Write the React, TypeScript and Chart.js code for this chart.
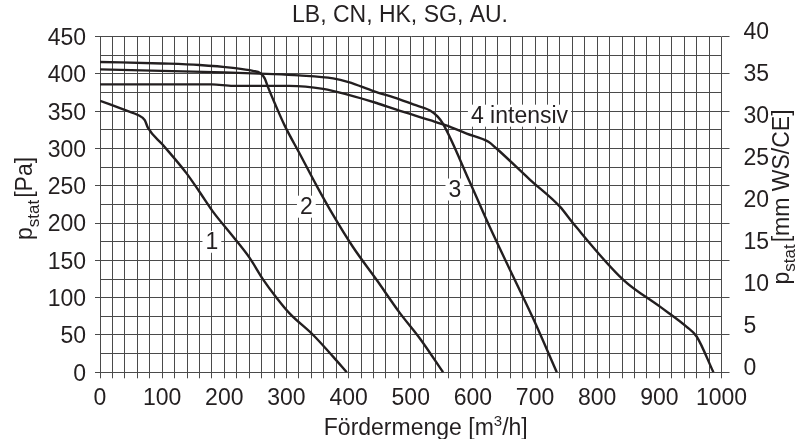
import React, { useEffect, useRef } from 'react';
import { Chart, registerables } from 'chart.js';

Chart.register(...registerables);

// ---------- data ----------
const chartTitle = 'LB, CN, HK, SG, AU.';
const xTitleMain = 'Fördermenge [m';
const xTitleSup = '3';
const xTitleRest = '/h]';
const yTitleMain = 'p';
const yTitleSub = 'stat';
const yLeftTitleRest = '[Pa]';
const yRightTitleRest = '[mm WS/CE]';

// Fördermenge [m³/h] and p_stat [Pa] per curve
const curve1X = [0, 45, 61, 72, 77, 101, 139, 160, 182, 214, 241, 262, 284, 305, 343, 375, 397];
const curve1Y = [364, 350, 345, 338, 328, 305, 267, 242, 215, 182, 153, 125, 100, 79, 50, 21, 0];

const curve2X = [0, 100, 160, 214, 246, 258, 265, 270, 281, 297, 322, 348, 375, 407, 445, 482, 515, 552];
const curve2Y = [416, 414, 412, 408, 404, 401, 394, 383, 361, 331, 292, 251, 211, 168, 124, 80, 45, 0];

const curve3X = [0, 100, 200, 268, 320, 375, 400, 440, 482, 504, 531, 543, 552, 595, 627, 665, 697, 735];
const curve3Y = [406, 404, 402, 400, 398, 394, 389, 377, 366, 359, 351, 343, 333, 255, 195, 128, 72, 0];

const curve4X = [0, 180, 214, 305, 359, 400, 445, 477, 531, 557, 590, 625, 638, 692, 740, 761, 842, 901, 944, 960, 987];
const curve4Y = [386, 386, 384, 384, 380, 372, 361, 352, 338, 331, 320, 309, 300, 258, 222, 200, 124, 88, 61, 48, 0];

const curveLabels = ['1', '2', '3', '4 intensiv'];
const curveLabelX = [180, 332, 571, 675];
const curveLabelY = [175, 222, 245, 344];

const xMin = 0, xMax = 1000, xStep = 20, xLabelStep = 100;
const yMin = 0, yMax = 450, yStep = 25, yLabelStep = 50;
const rMin = 0, rMax = 40, rStep = 5;

// ---------- style ----------
const FONT = '"Liberation Sans", Arial, Helvetica, sans-serif';
const FS = 23;
const SUBFS = 17;
const TEXT = '#231f20';
const GRID = '#4a4a4a';
const LINE = '#231f20';

function pts(xs: number[], ys: number[]) {
  return xs.map((x, i) => ({ x, y: ys[i] }));
}

function drawSubText(ctx: CanvasRenderingContext2D, cx: number, cy: number, main: string, sub: string, rest: string) {
  ctx.save();
  ctx.translate(cx, cy);
  ctx.rotate(-Math.PI / 2);
  ctx.textBaseline = 'alphabetic';
  ctx.textAlign = 'left';
  ctx.fillStyle = TEXT;
  ctx.font = `${FS}px ${FONT}`;
  const w1 = ctx.measureText(main).width;
  const w3 = ctx.measureText(rest).width;
  ctx.font = `${SUBFS}px ${FONT}`;
  const w2 = ctx.measureText(sub).width;
  const gap = 2;
  const total = w1 + w2 + gap + w3;
  const s = -total / 2;
  ctx.font = `${FS}px ${FONT}`;
  ctx.fillText(main, s, 0);
  ctx.font = `${SUBFS}px ${FONT}`;
  ctx.fillText(sub, s + w1, 6.5);
  ctx.font = `${FS}px ${FONT}`;
  ctx.fillText(rest, s + w1 + w2 + gap, 0);
  ctx.restore();
}

const annotPlugin = {
  id: 'annot',
  beforeDatasetsDraw(chart: any) {
    const { ctx, scales } = chart;
    ctx.save();
    ctx.font = `${FS}px ${FONT}`;
    ctx.textAlign = 'center';
    ctx.textBaseline = 'middle';
    curveLabels.forEach((t, i) => {
      const px = scales.x.getPixelForValue(curveLabelX[i]);
      const py = scales.y.getPixelForValue(curveLabelY[i]);
      const w = ctx.measureText(t).width + 6;
      ctx.fillStyle = '#ffffff';
      ctx.fillRect(px - w / 2, py - 11, w, 22);
      ctx.fillStyle = TEXT;
      ctx.fillText(t, px, py + 1);
    });
    ctx.restore();
  },
  afterDraw(chart: any) {
    const { ctx, chartArea, width, height } = chart;
    const midY = (chartArea.top + chartArea.bottom) / 2;
    drawSubText(ctx, 32, midY - 6, yTitleMain, yTitleSub, yLeftTitleRest);
    drawSubText(ctx, width - 11.5, midY - 7.5, yTitleMain, yTitleSub, yRightTitleRest);
    ctx.save();
    ctx.fillStyle = TEXT;
    ctx.textBaseline = 'alphabetic';
    ctx.textAlign = 'left';
    ctx.font = `${FS}px ${FONT}`;
    const a = ctx.measureText(xTitleMain).width;
    const c = ctx.measureText(xTitleRest).width;
    ctx.font = `${SUBFS - 2}px ${FONT}`;
    const b = ctx.measureText(xTitleSup).width;
    const total = a + b + c;
    const cx = (chartArea.left + chartArea.right) / 2 + 15;
    const by = height - 4;
    const s = cx - total / 2;
    ctx.font = `${FS}px ${FONT}`;
    ctx.fillText(xTitleMain, s, by);
    ctx.font = `${SUBFS - 2}px ${FONT}`;
    ctx.fillText(xTitleSup, s + a, by - 9);
    ctx.font = `${FS}px ${FONT}`;
    ctx.fillText(xTitleRest, s + a + b, by);
    ctx.restore();
  },
};

export default function App() {
  const ref = useRef<HTMLCanvasElement | null>(null);

  useEffect(() => {
    if (!ref.current) return;
    const ds = (xs: number[], ys: number[], label: string) => ({
      label,
      data: pts(xs, ys),
      borderColor: LINE,
      backgroundColor: LINE,
      borderWidth: 2.4,
      pointRadius: 0,
      cubicInterpolationMode: 'monotone' as const,
      fill: false,
      xAxisID: 'x',
      yAxisID: 'y',
    });
    const chart = new Chart(ref.current, {
      type: 'line',
      data: {
        datasets: [
          ds(curve1X, curve1Y, '1'),
          ds(curve2X, curve2Y, '2'),
          ds(curve3X, curve3Y, '3'),
          ds(curve4X, curve4Y, '4 intensiv'),
        ],
      },
      options: {
        animation: false,
        responsive: false,
        devicePixelRatio: 1,
        layout: { padding: 0 },
        plugins: {
          legend: { display: false },
          tooltip: { enabled: false },
          title: {
            display: true,
            text: chartTitle,
            color: TEXT,
            font: { family: FONT, size: FS, weight: 'normal' },
            padding: { top: 2, bottom: 7 },
          },
        },
        scales: {
          x: {
            type: 'linear',
            position: 'bottom',
            min: xMin,
            max: xMax,
            grid: { color: GRID, lineWidth: 1, tickLength: 6, tickColor: GRID },
            border: { display: true, color: GRID },
            ticks: {
              stepSize: xStep,
              autoSkip: false,
              maxRotation: 0,
              padding: 7,
              color: TEXT,
              font: { family: FONT, size: FS },
              callback: (v: any) => (Number(v) % xLabelStep === 0 ? String(v) : ''),
            },
            afterFit: (s: any) => { s.height = 66.7; },
          },
          y: {
            type: 'linear',
            position: 'left',
            min: yMin,
            max: yMax,
            grid: {
              color: GRID,
              lineWidth: 1,
              tickLength: 5,
              tickColor: (c: any) => (c.tick && c.tick.value % yLabelStep === 0 ? GRID : 'rgba(0,0,0,0)'),
            },
            border: { display: true, color: GRID },
            ticks: {
              stepSize: yStep,
              autoSkip: false,
              padding: 9,
              labelOffset: 2,
              color: TEXT,
              font: { family: FONT, size: FS },
              callback: (v: any) => (Number(v) % yLabelStep === 0 ? String(v) : ''),
            },
            afterFit: (s: any) => { s.width = 100; },
          },
          yT: {
            type: 'linear',
            position: 'right',
            min: yMin,
            max: yMax,
            grid: { display: true, drawOnChartArea: false, tickLength: 8, color: GRID, tickColor: GRID },
            border: { display: false },
            ticks: { display: false, stepSize: yLabelStep, autoSkip: false },
            afterFit: (s: any) => { s.width = 8; },
          },
          yR: {
            type: 'linear',
            position: 'right',
            min: rMin,
            max: rMax,
            grid: { display: false },
            border: { display: false },
            ticks: {
              stepSize: rStep,
              autoSkip: false,
              padding: 6,
              labelOffset: -4,
              color: TEXT,
              font: { family: FONT, size: FS },
            },
            afterFit: (s: any) => { s.width = 70.5; },
          },
        },
      },
      plugins: [annotPlugin],
    });
    return () => chart.destroy();
  }, []);

  return (
    <div style={{ position: 'fixed', left: 0, top: 0, width: '800px', height: '439px', background: '#fff' }}>
      <canvas ref={ref} width={800} height={439} style={{ display: 'block', width: '800px', height: '439px' }} />
    </div>
  );
}
